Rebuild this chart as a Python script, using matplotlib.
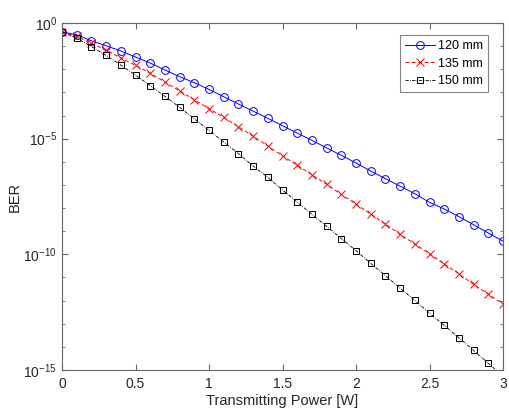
import numpy as np
import matplotlib
matplotlib.use("Agg")
import matplotlib.pyplot as plt
from matplotlib.ticker import FixedLocator, NullFormatter

plt.rcParams['font.family'] = ['Liberation Sans', 'DejaVu Sans']
plt.rcParams['mathtext.fontset'] = 'custom'
plt.rcParams['mathtext.rm'] = 'Liberation Sans'

# transmitting power [W]
power = [round(0.1 * i, 1) for i in range(31)]

# log10(BER)
log_ber_120 = [-0.38, -0.51, -0.77, -0.98, -1.21, -1.47, -1.73, -2.03, -2.32, -2.58,
               -2.87, -3.19, -3.50, -3.81, -4.12, -4.44, -4.76, -5.07, -5.40, -5.72,
               -6.05, -6.40, -6.73, -7.05, -7.38, -7.75, -8.04, -8.37, -8.72, -9.08,
               -9.43]
log_ber_135 = [-0.38, -0.58, -0.88, -1.17, -1.51, -1.83, -2.17, -2.55, -2.93, -3.32,
               -3.70, -4.08, -4.48, -4.89, -5.32, -5.74, -6.15, -6.56, -6.97, -7.41,
               -7.83, -8.26, -8.69, -9.14, -9.55, -9.98, -10.42, -10.84, -11.30, -11.72,
               -12.14]
log_ber_150 = [-0.38, -0.66, -1.02, -1.40, -1.82, -2.25, -2.71, -3.17, -3.64, -4.14,
               -4.64, -5.14, -5.65, -6.18, -6.67, -7.22, -7.74, -8.27, -8.79, -9.32,
               -9.84, -10.39, -10.92, -11.46, -11.99, -12.54, -13.07, -13.61, -14.15, -14.71,
               -15.27]

labels = ['120 mm', '135 mm', '150 mm']

fig = plt.figure(figsize=(5.1, 4.2), dpi=100)
ax = fig.add_axes([0.1216, 0.119, 0.8647, 0.8262])

ax.semilogy(power, 10.0 ** np.array(log_ber_120), color='#0000ff', linestyle='-', linewidth=0.7,
            marker='o', markersize=5.6, markerfacecolor='none', markeredgewidth=0.7, label=labels[0])
ax.semilogy(power, 10.0 ** np.array(log_ber_135), color='#ff0000', linestyle=(0, (4, 2.5)), linewidth=0.7,
            marker='x', markersize=5.5, markeredgewidth=0.7, label=labels[1])
ax.semilogy(power, 10.0 ** np.array(log_ber_150), color='black', linestyle=(0, (4, 1.5, 1, 1.5)), linewidth=0.6,
            marker='s', markersize=4.2, markerfacecolor='none', markeredgewidth=0.7, label=labels[2])

ax.set_xlim(0, 3)
ax.set_ylim(1e-15, 1)
ax.set_xticks([0, 0.5, 1, 1.5, 2, 2.5, 3])
ax.set_xticklabels(['0', '0.5', '1', '1.5', '2', '2.5', '3'])
ax.set_yticks([1e-15, 1e-10, 1e-5, 1])
ax.set_yticklabels([r'$10^{-15}$', r'$10^{-10}$', r'$10^{-5}$', r'$10^{0}$'])
ax.yaxis.set_minor_locator(FixedLocator([10.0 ** k for k in range(-15, 1)]))
ax.yaxis.set_minor_formatter(NullFormatter())

for s in ax.spines.values():
    s.set_color('#666666')
    s.set_linewidth(0.8)
ax.tick_params(which='both', direction='in', top=True, right=True, colors='#666666',
               labelcolor='#262626', labelsize=10)
ax.tick_params(which='major', length=4)
ax.tick_params(which='minor', length=2.5)
ax.tick_params(axis='x', pad=5)

ax.set_xlabel('Transmitting Power [W]', fontsize=10.5, color='#262626', labelpad=2)
ax.set_ylabel('BER', fontsize=10.5, color='#262626', labelpad=1)

leg = ax.legend(loc='upper right', bbox_to_anchor=(0.967, 0.965), fontsize=9, frameon=True,
                fancybox=False, edgecolor='#666666', handlelength=2.4, borderpad=0.4,
                labelspacing=0.45, handletextpad=0.3, borderaxespad=0)
leg.get_frame().set_linewidth(0.8)

fig.savefig('out.png', dpi=100)
